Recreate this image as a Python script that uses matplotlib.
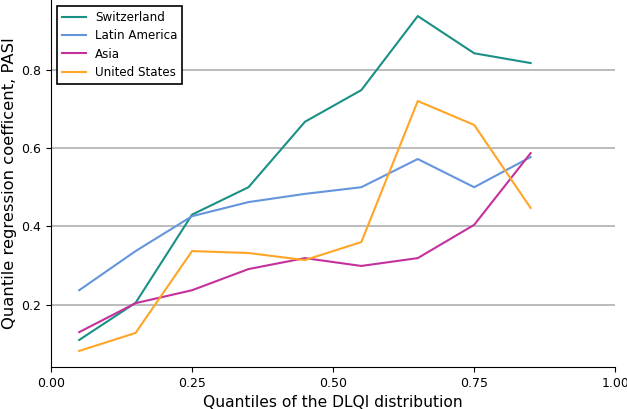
import matplotlib
matplotlib.use("Agg")
import matplotlib.pyplot as plt

quantiles = [0.05, 0.15, 0.25, 0.35, 0.45, 0.55, 0.65, 0.75, 0.85]
switzerland = [0.11, 0.205, 0.43, 0.50, 0.667, 0.748, 0.937, 0.842, 0.817]
latin_america = [0.237, 0.337, 0.426, 0.462, 0.483, 0.50, 0.572, 0.50, 0.577]
asia = [0.13, 0.204, 0.237, 0.291, 0.319, 0.299, 0.319, 0.404, 0.587]
united_states = [0.082, 0.128, 0.337, 0.332, 0.314, 0.36, 0.72, 0.659, 0.447]

series = [
    ("Switzerland", switzerland, "#1a9085"),
    ("Latin America", latin_america, "#6495dc"),
    ("Asia", asia, "#c4309c"),
    ("United States", united_states, "#ffa526"),
]

fig = plt.figure(figsize=(6.27, 4.09), dpi=100)
ax = fig.add_axes([0.0813, 0.1027, 0.9, 0.8973])
for name, vals, col in series:
    ax.plot(quantiles, vals, color=col, lw=1.5, label=name)

ax.set_xlim(0, 1)
ax.set_ylim(0.041, 0.978)
ax.set_xticks([0, 0.25, 0.5, 0.75, 1.0])
ax.set_xticklabels(["0.00", "0.25", "0.50", "0.75", "1.00"])
ax.set_yticks([0.2, 0.4, 0.6, 0.8])
ax.set_yticklabels(["0.2", "0.4", "0.6", "0.8"])
ax.yaxis.grid(True, color="#b0b0b0", lw=1.2)
ax.set_axisbelow(True)
for s in ["top", "right"]:
    ax.spines[s].set_visible(False)
ax.tick_params(labelsize=9)
ax.set_xlabel("Quantiles of the DLQI distribution", fontsize=11.2)
ax.set_ylabel("Quantile regression coefficent, PASI", fontsize=11.8, labelpad=3)
leg = ax.legend(loc="upper left", fontsize=8.6, frameon=True, fancybox=False,
                edgecolor="black", framealpha=1, bbox_to_anchor=(0.0, 1.0),
                labelspacing=0.45)
leg.get_frame().set_linewidth(1.2)
fig.savefig("out.png", dpi=100)
